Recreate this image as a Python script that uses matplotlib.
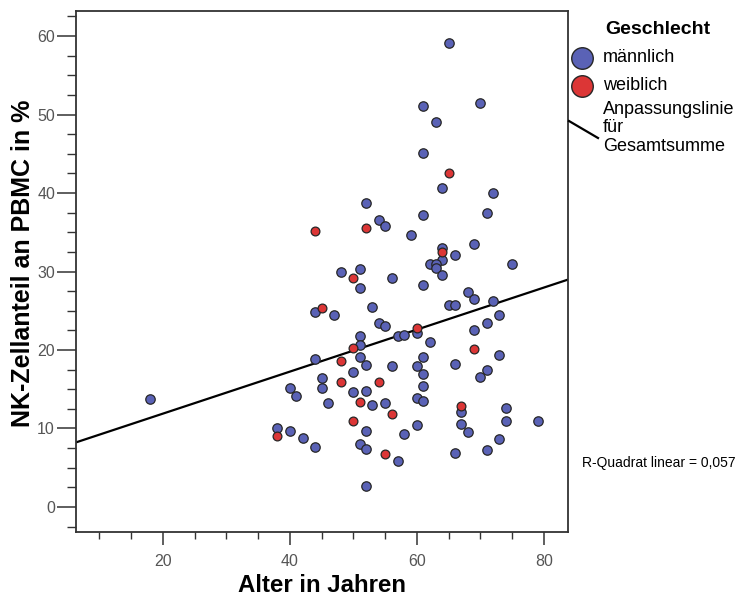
import matplotlib
matplotlib.use('Agg')
from matplotlib import pyplot as plt
from matplotlib.lines import Line2D
from matplotlib.ticker import MultipleLocator
import numpy as np

# Alter / NK-Zellanteil, maennlich
age_m = [65, 61, 70, 63, 61, 64, 72, 52, 71, 61, 54, 55, 59, 69, 64, 66, 64, 62, 63, 63,
         75, 48, 51, 56, 64, 61, 68, 69, 65, 66, 72, 73, 71, 69, 51, 47, 53, 54, 55, 60,
         57, 58, 62, 51, 51, 51, 52, 56, 61, 60, 61, 61, 73, 66, 71, 70, 45, 45, 50, 50,
         52, 46, 53, 55, 60, 61, 67, 67, 68, 74, 74, 79, 73, 71, 66, 60, 58, 52, 51, 52,
         57, 52, 44, 40, 41, 38, 40, 42, 44, 18, 44]
nk_m = [59.1, 51.1, 51.5, 49.1, 45.1, 40.7, 40.0, 38.7, 37.5, 37.2, 36.6, 35.8, 34.7, 33.5,
        33.0, 32.1, 31.5, 30.9, 30.9, 30.5, 30.9, 29.9, 30.3, 29.2, 29.6, 28.3, 27.4, 26.5,
        25.7, 25.7, 26.2, 24.4, 23.4, 22.6, 27.9, 24.5, 25.5, 23.4, 23.0, 22.2, 21.8, 21.9,
        21.0, 21.8, 20.6, 19.1, 18.1, 17.9, 19.1, 17.9, 17.0, 15.4, 19.4, 18.2, 17.5, 16.6,
        16.4, 15.2, 17.2, 14.6, 14.8, 13.2, 13.0, 13.2, 13.9, 13.5, 12.1, 10.6, 9.6, 12.6,
        11.0, 11.0, 8.7, 7.3, 6.9, 10.5, 9.3, 9.7, 8.0, 7.4, 5.9, 2.7, 18.9, 15.2, 14.1,
        10.1, 9.7, 8.8, 7.6, 13.7, 24.9]

# weiblich
age_w = [65, 52, 64, 50, 60, 45, 50, 69, 48, 48, 54, 51, 56, 67, 50, 55, 38, 44]
nk_w = [42.6, 35.5, 32.5, 29.2, 22.8, 25.4, 20.3, 20.1, 18.6, 15.9, 15.9, 13.4, 11.9, 12.9,
        11.0, 6.8, 9.0, 35.2]

legend_labels = ['männlich', 'weiblich']
colors = ['#5a62b6', '#dc3636']

plt.rcParams['font.family'] = ['Liberation Sans', 'DejaVu Sans']

W, H = 747, 599
PT = 0.72  # points per pixel at dpi 100
fig = plt.figure(figsize=(W / 100, H / 100), dpi=100)
ax = fig.add_axes([76 / W, 67 / H, 492 / W, 521 / H])

ax.scatter(age_m, nk_m, s=46, c=colors[0], edgecolors='#262626', linewidths=0.9, zorder=3)
ax.scatter(age_w, nk_w, s=40, c=colors[1], edgecolors='#262626', linewidths=0.9, zorder=4)

# lineare Anpassung ueber alle Werte
all_x = np.array(age_m + age_w, dtype=float)
all_y = np.array(nk_m + nk_w, dtype=float)
slope, icpt = np.polyfit(all_x, all_y, 1)
xlim = (6.3, 83.8)
xs = np.array(xlim)
ax.plot(xs, icpt + slope * xs, color='black', lw=1.6, zorder=2)

ax.set_xlim(*xlim)
ax.set_ylim(-3.2, 63.2)
ax.xaxis.set_major_locator(MultipleLocator(20))
ax.xaxis.set_minor_locator(MultipleLocator(5))
ax.yaxis.set_major_locator(MultipleLocator(10))
ax.yaxis.set_minor_locator(MultipleLocator(2.5))
ax.tick_params(axis='x', which='major', length=13 * PT, width=1.1, color='#333333',
               labelsize=11.5, labelcolor='#555555', pad=9 * PT)
ax.tick_params(axis='x', which='minor', length=7 * PT, width=1.0, color='#333333')
ax.tick_params(axis='y', which='major', length=19 * PT, width=1.1, color='#333333',
               labelsize=11.5, labelcolor='#555555', pad=2 * PT)
ax.tick_params(axis='y', which='minor', length=9 * PT, width=1.0, color='#333333')
for sp in ax.spines.values():
    sp.set_color('#333333')
    sp.set_linewidth(1.3)

fig.text(322 / W, 1 - 585 / H, 'Alter in Jahren', ha='center', va='center',
         fontsize=17.3, fontweight='bold')
fig.text(23 / W, 1 - 263 / H, 'NK-Zellanteil an PBMC in %', ha='center', va='center',
         rotation=90, fontsize=18, fontweight='bold')

# Legende
fig.text(605 / W, 1 - 30 / H, 'Geschlecht', ha='left', va='center',
         fontsize=14, fontweight='bold')
for i, lab in enumerate(legend_labels):
    yy = 1 - (58 + 28 * i) / H
    fig.add_artist(Line2D([582 / W], [yy], marker='o', markersize=15.5,
                          markerfacecolor=colors[i], markeredgecolor='#262626',
                          markeredgewidth=1.0, transform=fig.transFigure))
    fig.text(603 / W, yy, lab, ha='left', va='center', fontsize=13)
fig.add_artist(Line2D([569 / W, 598 / W], [1 - 121 / H, 1 - 138 / H], color='black',
                      lw=1.6, transform=fig.transFigure))
fig.text(603 / W, 1 - 101 / H, 'Anpassungslinie\nfür\nGesamtsumme', ha='left', va='top',
         fontsize=13, linespacing=1.1)

fig.text(582 / W, 1 - 463 / H, 'R-Quadrat linear = 0,057', ha='left', va='center',
         fontsize=10)

fig.savefig('out.png', dpi=100)
